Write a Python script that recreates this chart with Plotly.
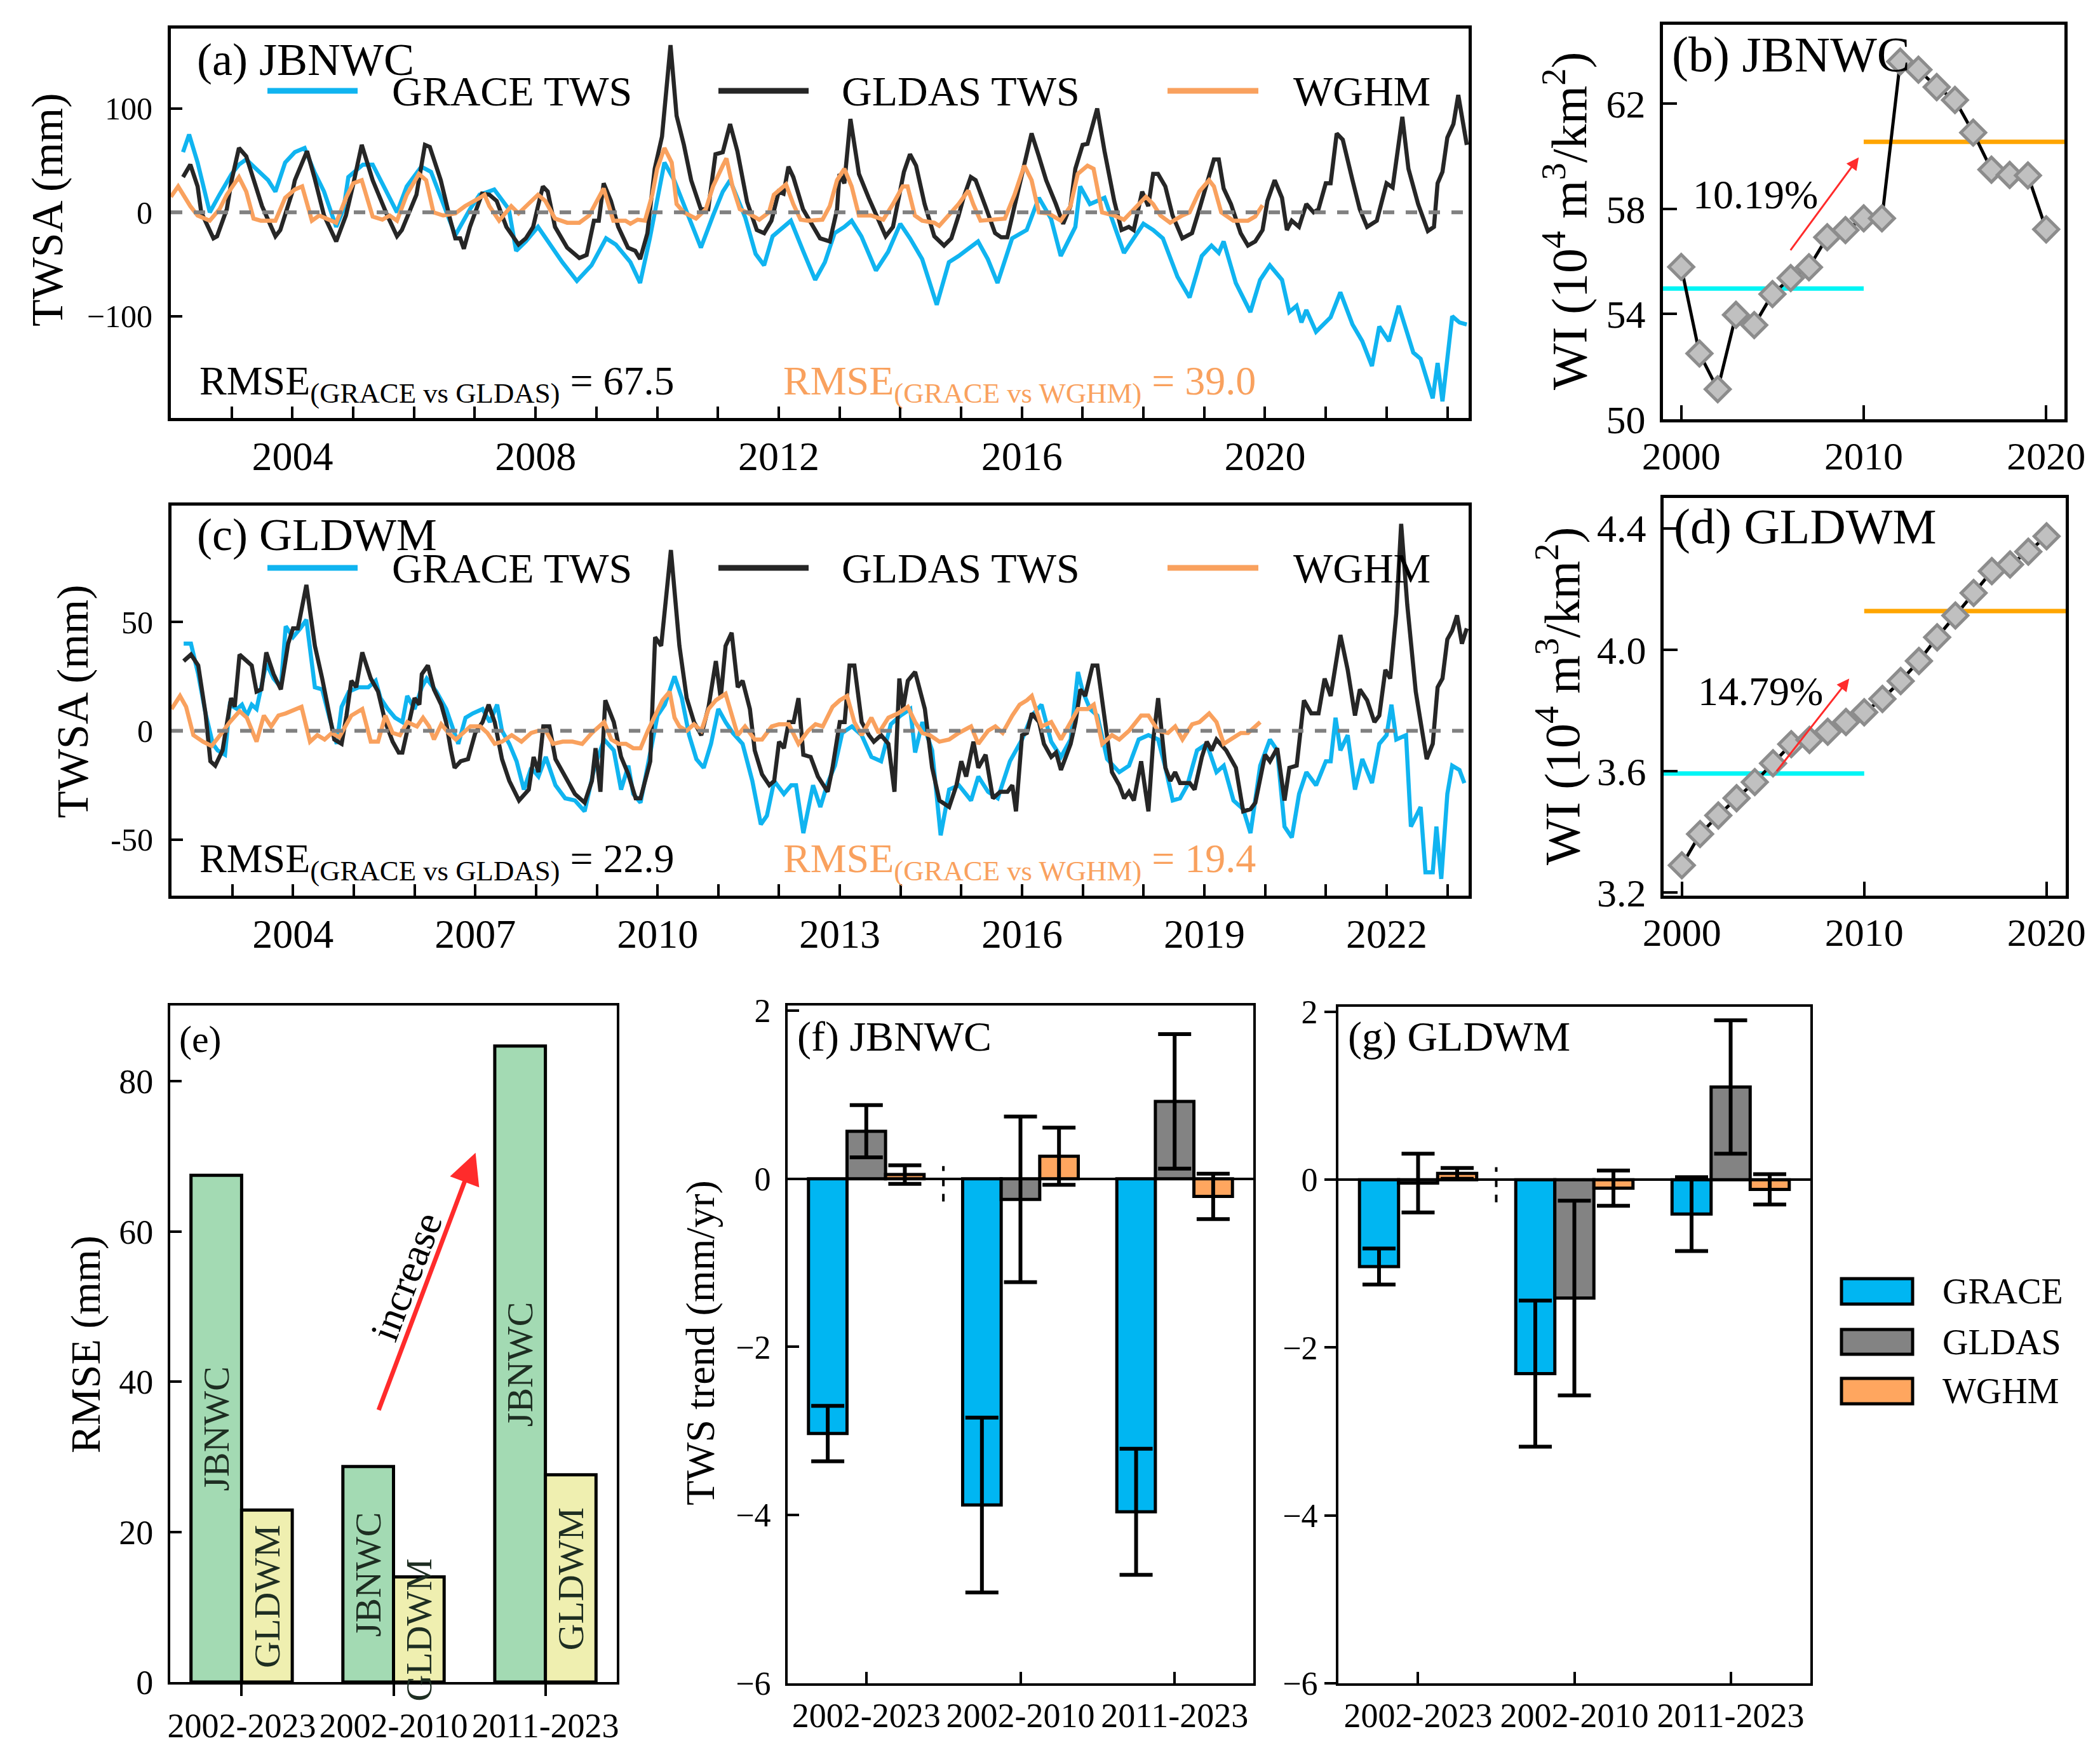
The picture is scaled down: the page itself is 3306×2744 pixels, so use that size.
import plotly.graph_objects as go

# ---------------- data ----------------
# (a) JBNWC monthly TWSA (mm) as (decimal year, value)
JB_GRACE = [(2002.2, 58), (2002.3, 75), (2002.44, 48), (2002.64, 0), (2002.8, 17), (2003.0, 37), (2003.12, 46),
            (2003.24, 51), (2003.4, 42), (2003.6, 31), (2003.72, 20), (2003.88, 48), (2004.04, 58), (2004.2, 62),
            (2004.36, 39), (2004.52, 20), (2004.72, -14), (2004.84, 3), (2004.92, 34), (2005.16, 46), (2005.32, 46),
            (2005.48, 28), (2005.72, 0), (2005.88, 25), (2006.12, 44), (2006.28, 39), (2006.52, 3), (2006.68, -22),
            (2006.92, 3), (2007.08, 17), (2007.32, 22), (2007.56, 3), (2007.68, -37), (2007.84, -28), (2008.04, -14),
            (2008.2, -28), (2008.44, -48), (2008.68, -66), (2008.92, -51), (2009.16, -25), (2009.32, -31),
            (2009.56, -48), (2009.72, -68), (2009.88, -25), (2010.12, 48), (2010.28, 31), (2010.44, 8),
            (2010.72, -34), (2010.92, -3), (2011.08, 20), (2011.2, 31), (2011.3, 17), (2011.45, -5), (2011.62, -40),
            (2011.76, -51), (2011.9, -23), (2012.08, -14), (2012.2, -8), (2012.4, -37), (2012.6, -65), (2012.76, -48),
            (2012.92, -20), (2013.08, -14), (2013.2, -8), (2013.36, -23), (2013.6, -56), (2013.8, -38), (2014.0, -11),
            (2014.16, -25), (2014.36, -45), (2014.6, -89), (2014.8, -48), (2014.96, -42), (2015.28, -28),
            (2015.44, -45), (2015.6, -68), (2015.84, -25), (2016.08, -17), (2016.28, 14), (2016.48, -6),
            (2016.64, -42), (2016.88, -14), (2016.96, 25), (2017.12, 8), (2017.36, 14), (2017.56, -20), (2017.68, -39),
            (2018.0, -11), (2018.16, -17), (2018.32, -25), (2018.56, -62), (2018.76, -82), (2018.96, -42),
            (2019.12, -32), (2019.24, -39), (2019.32, -28), (2019.52, -68), (2019.76, -96), (2019.92, -65),
            (2020.08, -51), (2020.28, -65), (2020.4, -96), (2020.52, -90), (2020.6, -106), (2020.68, -94),
            (2020.84, -115), (2021.08, -101), (2021.24, -77), (2021.44, -108), (2021.6, -124), (2021.76, -148),
            (2021.88, -110), (2022.04, -124), (2022.2, -90), (2022.44, -135), (2022.56, -141), (2022.76, -179),
            (2022.84, -145), (2022.92, -182), (2023.08, -100), (2023.2, -106), (2023.32, -108)]
JB_GLDAS = [(2002.2, 34), (2002.32, 46), (2002.44, 25), (2002.5, 0), (2002.7, -25), (2002.76, -23), (2002.92, 3),
            (2003.0, 31), (2003.12, 62), (2003.24, 54), (2003.5, 6), (2003.72, -23), (2003.8, -17), (2004.0, 20),
            (2004.04, 31), (2004.24, 59), (2004.36, 34), (2004.52, -3), (2004.72, -28), (2004.88, -3), (2005.0, 27),
            (2005.14, 65), (2005.32, 31), (2005.56, -3), (2005.72, -23), (2005.8, -17), (2006.04, 17), (2006.18, 65),
            (2006.26, 63), (2006.44, 31), (2006.6, -8), (2006.68, -25), (2006.76, -25), (2006.82, -35),
            (2006.92, -14), (2007.12, 18), (2007.24, 17), (2007.36, 11), (2007.52, -14), (2007.72, -31),
            (2007.84, -25), (2007.96, -14), (2008.04, 6), (2008.12, 25), (2008.2, 20), (2008.32, -14), (2008.52, -34),
            (2008.72, -44), (2008.84, -41), (2008.96, -8), (2009.04, -8), (2009.12, 28), (2009.24, 11),
            (2009.36, -14), (2009.52, -34), (2009.64, -37), (2009.72, -45), (2009.84, -20), (2009.96, 42),
            (2010.08, 73), (2010.22, 161), (2010.32, 93), (2010.44, 65), (2010.56, 31), (2010.72, 3), (2010.84, 3),
            (2010.96, 56), (2011.08, 58), (2011.2, 85), (2011.32, 59), (2011.48, 10), (2011.64, -17), (2011.76, -20),
            (2011.88, -8), (2012.0, 20), (2012.08, 18), (2012.16, 44), (2012.24, 34), (2012.4, 3), (2012.6, -17),
            (2012.68, -25), (2012.84, -28), (2012.96, 3), (2013.0, 37), (2013.08, 28), (2013.18, 90), (2013.32, 37),
            (2013.48, 14), (2013.64, -8), (2013.76, -23), (2013.88, -14), (2014.0, 20), (2014.06, 39), (2014.16, 56),
            (2014.26, 45), (2014.4, 8), (2014.56, -23), (2014.72, -32), (2014.84, -25), (2014.96, -3), (2015.04, 14),
            (2015.16, 34), (2015.24, 31), (2015.4, 6), (2015.56, -20), (2015.66, -24), (2015.76, -24), (2015.88, 6),
            (2016.0, 37), (2016.16, 76), (2016.28, 54), (2016.4, 31), (2016.56, 8), (2016.68, -11), (2016.8, 6),
            (2016.88, 42), (2017.0, 65), (2017.08, 66), (2017.24, 100), (2017.36, 59), (2017.52, 11), (2017.64, -17),
            (2017.76, -14), (2017.84, -17), (2017.98, 20), (2018.08, 6), (2018.16, 37), (2018.24, 37), (2018.36, 25),
            (2018.48, -3), (2018.64, -25), (2018.8, -20), (2018.92, 3), (2019.08, 34), (2019.16, 51), (2019.24, 51),
            (2019.32, 23), (2019.44, 8), (2019.6, -20), (2019.72, -32), (2019.84, -28), (2019.96, -17), (2020.04, 11),
            (2020.16, 31), (2020.28, 14), (2020.36, -17), (2020.44, -8), (2020.56, -14), (2020.68, 8), (2020.8, 0),
            (2020.88, 3), (2021.0, 28), (2021.08, 28), (2021.18, 76), (2021.28, 70), (2021.44, 31), (2021.56, 3),
            (2021.68, -14), (2021.84, -8), (2022.0, 28), (2022.1, 24), (2022.26, 92), (2022.36, 42), (2022.52, 8),
            (2022.68, -18), (2022.78, -14), (2022.84, 28), (2022.92, 39), (2023.0, 72), (2023.1, 85), (2023.18, 113),
            (2023.32, 65)]
JB_WGHM = [(2002.0, 15), (2002.12, 25), (2002.32, 6), (2002.44, -3), (2002.64, -8), (2002.8, 3), (2002.92, 17),
           (2003.12, 34), (2003.24, 20), (2003.36, -6), (2003.48, -8), (2003.72, -8), (2003.88, 14), (2004.04, 22),
           (2004.16, 25), (2004.32, -8), (2004.44, -3), (2004.6, -7), (2004.72, -10), (2004.88, 14), (2005.0, 28),
           (2005.14, 31), (2005.32, -4), (2005.48, -7), (2005.6, -3), (2005.72, -8), (2005.88, 17), (2006.08, 37),
           (2006.2, 31), (2006.32, 0), (2006.48, -3), (2006.68, -1), (2006.84, 6), (2007.08, 14), (2007.16, 17),
           (2007.24, 6), (2007.4, -8), (2007.6, 6), (2007.72, -1), (2007.88, 8), (2008.04, 17), (2008.16, 11),
           (2008.32, -6), (2008.52, -10), (2008.72, -10), (2008.88, -3), (2009.04, 14), (2009.12, 23), (2009.28, -8),
           (2009.48, -8), (2009.56, -11), (2009.68, -7), (2009.8, -8), (2009.92, 17), (2010.0, 42), (2010.12, 62),
           (2010.24, 48), (2010.32, 8), (2010.44, 0), (2010.64, -6), (2010.8, 3), (2010.92, 25), (2011.08, 45),
           (2011.14, 52), (2011.24, 25), (2011.36, 3), (2011.48, 0), (2011.68, -7), (2011.84, 0), (2011.92, 17),
           (2012.12, 27), (2012.24, 8), (2012.36, -7), (2012.48, -8), (2012.72, -7), (2012.84, 6), (2012.96, 31),
           (2013.08, 42), (2013.2, 25), (2013.32, -3), (2013.52, -3), (2013.72, -7), (2013.88, 8), (2014.04, 25),
           (2014.12, 25), (2014.24, -3), (2014.36, -8), (2014.56, -10), (2014.64, -13), (2014.8, -3), (2014.96, 8),
           (2015.12, 21), (2015.2, 8), (2015.32, -8), (2015.52, -7), (2015.72, -6), (2015.88, 17), (2016.04, 45),
           (2016.16, 31), (2016.28, 0), (2016.44, -1), (2016.64, -8), (2016.8, 6), (2016.92, 37), (2017.08, 45),
           (2017.18, 42), (2017.32, 0), (2017.52, -3), (2017.68, -7), (2017.84, 3), (2018.04, 15), (2018.16, 8),
           (2018.28, -3), (2018.44, -10), (2018.64, -3), (2018.76, 0), (2018.92, 20), (2019.08, 31), (2019.16, 25),
           (2019.28, 0), (2019.48, -8), (2019.72, -8), (2019.84, -4), (2019.96, 7)]

# (c) GLDWM monthly TWSA (mm)
GL_GRACE = [(2002.2, 40), (2002.32, 40), (2002.44, 26), (2002.56, 8), (2002.68, -6), (2002.76, -9), (2002.88, -11),
            (2002.96, 12), (2003.08, 10), (2003.16, 12), (2003.24, 7), (2003.32, 12), (2003.4, 10), (2003.56, 31),
            (2003.68, 24), (2003.8, 20), (2003.88, 48), (2004.0, 43), (2004.12, 47), (2004.22, 51), (2004.36, 20),
            (2004.48, 19), (2004.6, 6), (2004.72, -6), (2004.8, 11), (2004.92, 18), (2005.08, 20), (2005.24, 20),
            (2005.36, 23), (2005.44, 15), (2005.56, 10), (2005.68, 6), (2005.8, 4), (2005.88, 16), (2006.0, 10),
            (2006.12, 20), (2006.2, 24), (2006.36, 18), (2006.52, 10), (2006.64, 0), (2006.72, -6), (2006.84, 6),
            (2006.96, 8), (2007.12, 10), (2007.24, 4), (2007.36, 12), (2007.44, 0), (2007.56, -6), (2007.68, -14),
            (2007.8, -27), (2007.92, -17), (2008.04, -21), (2008.16, -12), (2008.32, -25), (2008.48, -31),
            (2008.64, -32), (2008.8, -37), (2008.96, -17), (2009.12, -4), (2009.28, -9), (2009.4, -27), (2009.52, -16),
            (2009.6, -29), (2009.72, -33), (2009.88, -9), (2010.0, 7), (2010.12, 12), (2010.28, 25), (2010.4, 15),
            (2010.52, -2), (2010.64, -13), (2010.76, -17), (2010.88, -6), (2011.0, 10), (2011.12, 4), (2011.24, -1),
            (2011.4, -6), (2011.56, -23), (2011.7, -43), (2011.8, -39), (2011.92, -23), (2012.08, -29), (2012.2, -25),
            (2012.28, -25), (2012.4, -47), (2012.56, -25), (2012.68, -35), (2012.8, -24), (2012.92, -16),
            (2013.04, -1), (2013.2, 2), (2013.36, -2), (2013.52, -12), (2013.68, -14), (2013.84, 3), (2014.0, 7),
            (2014.16, 10), (2014.24, -10), (2014.36, 4), (2014.52, -9), (2014.66, -48), (2014.8, -27), (2014.96, -25),
            (2015.16, -32), (2015.28, -21), (2015.44, -28), (2015.6, -31), (2015.8, -14), (2016.0, -4), (2016.16, 7),
            (2016.32, 12), (2016.48, -5), (2016.64, -12), (2016.8, -4), (2016.92, 27), (2017.0, 18), (2017.12, 10),
            (2017.24, 7), (2017.4, -13), (2017.6, -19), (2017.76, -16), (2017.92, -4), (2018.08, -2), (2018.24, -4),
            (2018.36, -17), (2018.48, -32), (2018.6, -31), (2018.72, -25), (2018.88, -9), (2019.04, -6),
            (2019.2, -19), (2019.32, -16), (2019.48, -32), (2019.64, -36), (2019.76, -47), (2019.92, -16),
            (2020.08, -4), (2020.2, -9), (2020.32, -44), (2020.44, -49), (2020.56, -29), (2020.68, -19),
            (2020.84, -25), (2021.0, -14), (2021.08, -14), (2021.16, 6), (2021.24, -9), (2021.36, -2), (2021.48, -27),
            (2021.6, -13), (2021.76, -24), (2021.88, -6), (2022.0, -2), (2022.08, 12), (2022.16, -4), (2022.32, -2),
            (2022.4, -44), (2022.56, -35), (2022.64, -65), (2022.76, -65), (2022.82, -44), (2022.9, -68),
            (2023.0, -29), (2023.08, -16), (2023.2, -18), (2023.28, -24)]
GL_GLDAS = [(2002.2, 32), (2002.32, 35), (2002.44, 30), (2002.56, 8), (2002.64, -14), (2002.72, -16), (2002.84, -9),
            (2002.98, 15), (2003.04, 11), (2003.12, 35), (2003.24, 32), (2003.32, 30), (2003.4, 18), (2003.48, 19),
            (2003.56, 36), (2003.68, 26), (2003.8, 19), (2003.92, 40), (2004.0, 47), (2004.08, 47), (2004.22, 67),
            (2004.36, 39), (2004.48, 24), (2004.6, 7), (2004.68, -4), (2004.8, -6), (2004.88, 7), (2004.96, 23),
            (2005.04, 20), (2005.14, 36), (2005.28, 24), (2005.4, 18), (2005.52, 4), (2005.64, -5), (2005.74, -10),
            (2005.8, -10), (2005.92, 6), (2006.0, 15), (2006.08, 12), (2006.12, 26), (2006.22, 30), (2006.32, 19),
            (2006.44, 12), (2006.52, 4), (2006.6, -9), (2006.66, -17), (2006.76, -14), (2006.88, -13), (2007.0, -1),
            (2007.12, 4), (2007.22, 12), (2007.32, 4), (2007.44, -13), (2007.56, -23), (2007.72, -32), (2007.88, -27),
            (2007.96, -12), (2008.04, -19), (2008.12, 2), (2008.22, 2), (2008.32, -13), (2008.48, -21),
            (2008.64, -29), (2008.8, -33), (2008.92, -23), (2008.98, -8), (2009.06, -28), (2009.14, 14), (2009.28, 4),
            (2009.4, -12), (2009.52, -20), (2009.64, -31), (2009.72, -31), (2009.88, -14), (2009.96, 43),
            (2010.06, 39), (2010.22, 83), (2010.36, 39), (2010.48, 15), (2010.6, 4), (2010.72, -2), (2010.84, 11),
            (2010.96, 32), (2011.04, 15), (2011.12, 39), (2011.22, 45), (2011.32, 20), (2011.4, 23), (2011.52, 10),
            (2011.6, -9), (2011.72, -20), (2011.84, -25), (2011.92, -23), (2012.0, -5), (2012.08, -8), (2012.16, 4),
            (2012.24, 4), (2012.32, 15), (2012.4, -11), (2012.52, -12), (2012.64, -21), (2012.8, -28), (2012.88, -17),
            (2013.0, 4), (2013.08, 4), (2013.16, 30), (2013.24, 30), (2013.36, 4), (2013.48, -2), (2013.56, -5),
            (2013.68, -2), (2013.8, -6), (2013.9, -28), (2013.98, 24), (2014.04, 10), (2014.12, 23), (2014.24, 27),
            (2014.4, 10), (2014.52, -17), (2014.64, -32), (2014.8, -35), (2014.92, -25), (2015.0, -14), (2015.08, -21),
            (2015.2, -5), (2015.28, -17), (2015.4, -11), (2015.52, -31), (2015.64, -28), (2015.76, -28),
            (2015.84, -25), (2015.9, -37), (2016.0, -2), (2016.08, -1), (2016.16, 8), (2016.28, 4), (2016.36, -6),
            (2016.48, -12), (2016.56, -10), (2016.64, -18), (2016.8, -6), (2016.88, 4), (2016.96, 19), (2017.04, 16),
            (2017.16, 30), (2017.24, 30), (2017.36, 7), (2017.48, -19), (2017.6, -25), (2017.68, -31), (2017.76, -28),
            (2017.84, -32), (2017.96, -14), (2018.08, -37), (2018.16, -4), (2018.24, 15), (2018.36, -17),
            (2018.44, -23), (2018.52, -19), (2018.6, -24), (2018.76, -24), (2018.84, -27), (2018.96, -12),
            (2019.04, -5), (2019.12, -9), (2019.2, -4), (2019.36, -9), (2019.52, -17), (2019.64, -37), (2019.76, -36),
            (2019.84, -33), (2020.0, -11), (2020.08, -14), (2020.2, -8), (2020.32, -32), (2020.4, -17), (2020.52, -16),
            (2020.64, 14), (2020.76, 8), (2020.88, 8), (2020.98, 24), (2021.08, 16), (2021.24, 44), (2021.36, 28),
            (2021.48, 7), (2021.56, 19), (2021.68, 14), (2021.8, 4), (2021.88, 7), (2021.98, 28), (2022.06, 24),
            (2022.16, 54), (2022.24, 95), (2022.34, 58), (2022.48, 18), (2022.66, -13), (2022.76, -6), (2022.84, 20),
            (2022.92, 24), (2023.0, 42), (2023.08, 46), (2023.16, 53), (2023.24, 40), (2023.32, 47)]
GL_WGHM = [(2002.0, 10), (2002.14, 16), (2002.24, 11), (2002.36, -2), (2002.52, -5), (2002.66, -7), (2002.8, -2),
           (2002.96, 4), (2003.12, 9), (2003.24, 6), (2003.4, -5), (2003.52, 7), (2003.64, 2), (2003.76, 7),
           (2003.88, 8), (2004.04, 10), (2004.14, 11), (2004.28, -5), (2004.4, -2), (2004.52, -4), (2004.64, -1),
           (2004.76, -3), (2004.88, 3), (2004.96, 7), (2005.14, 10), (2005.28, -5), (2005.4, -5), (2005.52, 7),
           (2005.64, -1), (2005.76, -2), (2005.88, 4), (2006.04, 2), (2006.14, 6), (2006.24, 2), (2006.32, -4),
           (2006.44, 3), (2006.56, -1), (2006.68, -4), (2006.8, -1), (2006.92, 2), (2007.08, 2), (2007.2, -1),
           (2007.32, -6), (2007.44, -5), (2007.6, -2), (2007.76, -5), (2007.92, -1), (2008.04, 0), (2008.16, 0),
           (2008.28, -6), (2008.44, -5), (2008.6, -5), (2008.76, -6), (2008.92, -1), (2009.12, 4), (2009.24, -4),
           (2009.36, -6), (2009.48, -6), (2009.6, -8), (2009.72, -8), (2009.84, 0), (2009.96, 7), (2010.08, 14),
           (2010.2, 18), (2010.28, 6), (2010.36, 2), (2010.48, 0), (2010.6, 3), (2010.72, 0), (2010.84, 10),
           (2010.96, 14), (2011.12, 17), (2011.2, 10), (2011.32, -2), (2011.44, 2), (2011.6, -4), (2011.72, -4),
           (2011.88, 2), (2012.0, 3), (2012.16, 3), (2012.32, -6), (2012.48, 0), (2012.6, 3), (2012.72, 2),
           (2012.88, 11), (2013.0, 14), (2013.12, 16), (2013.24, 4), (2013.36, -2), (2013.52, 6), (2013.64, -1),
           (2013.8, 6), (2013.96, 8), (2014.12, 11), (2014.24, 4), (2014.36, -1), (2014.48, -2), (2014.64, -5),
           (2014.8, -4), (2014.96, -1), (2015.16, 2), (2015.28, -6), (2015.44, 0), (2015.56, 2), (2015.68, -1),
           (2015.84, 7), (2015.96, 12), (2016.08, 14), (2016.16, 16), (2016.32, 2), (2016.48, 4), (2016.64, -4),
           (2016.8, 4), (2016.92, 10), (2017.08, 10), (2017.18, 12), (2017.32, -6), (2017.48, -2), (2017.6, -4),
           (2017.76, 0), (2017.96, 7), (2018.08, 7), (2018.24, 0), (2018.4, -1), (2018.52, 2), (2018.64, -4),
           (2018.8, 3), (2018.92, 4), (2019.08, 8), (2019.2, 4), (2019.32, -6), (2019.44, -4), (2019.6, -1),
           (2019.72, -1), (2019.84, 2), (2019.92, 4)]

RMSE_TEXT_JB = ["67.5", "39.0"]
RMSE_TEXT_GL = ["22.9", "19.4"]

# (b), (d) annual WI (10^4 m3/km2)
WI_YEARS = list(range(2000, 2021))
WI_JBNWC = [55.79, 52.5, 51.14, 53.97, 53.58, 54.76, 55.37, 55.78, 56.92, 57.19, 57.64,
            57.64, 63.6, 63.29, 62.63, 62.14, 60.9, 59.49, 59.29, 59.27, 57.22]
WI_GLDWM = [3.29, 3.393, 3.454, 3.511, 3.564, 3.626, 3.689, 3.703, 3.73, 3.762, 3.794,
            3.838, 3.897, 3.963, 4.041, 4.113, 4.187, 4.259, 4.281, 4.323, 4.374]
PERIOD_SPLIT = 2010
WI_PCT = ["10.19%", "14.79%"]

# (e) RMSE (mm)
PERIODS = ["2002-2023", "2002-2010", "2011-2023"]
RMSE_JBNWC = [67.5, 28.7, 84.7]
RMSE_GLDWM = [22.9, 14.0, 27.6]

# (f), (g) TWS trend (mm/yr) and uncertainty
TREND_F = {"GRACE": [-3.03, -3.88, -3.96], "GLDAS": [0.565, -0.245, 0.92], "WGHM": [0.05, 0.267, -0.21]}
ERR_F = {"GRACE": [0.33, 1.04, 0.75], "GLDAS": [0.31, 0.985, 0.80], "WGHM": [0.11, 0.34, 0.27]}
TREND_G = {"GRACE": [-1.035, -2.31, -0.41], "GLDAS": [-0.04, -1.41, 1.105], "WGHM": [0.075, -0.10, -0.115]}
ERR_G = {"GRACE": [0.215, 0.87, 0.44], "GLDAS": [0.35, 1.16, 0.795], "WGHM": [0.065, 0.21, 0.18]}

# ---------------- style ----------------
W, H = 3306, 2744
SERIF = "Liberation Serif, Times New Roman, serif"
C_GRACE_LINE = "#10B4F0"
C_GLDAS_LINE = "#262626"
C_WGHM_LINE = "#F9A15E"
C_GRACE_BAR = "#00B6F2"
C_GLDAS_BAR = "#838383"
C_WGHM_BAR = "#FFA65F"
C_JB_BAR = "#A3DAB3"
C_GL_BAR = "#EFEFB0"
C_RED = "#FF2B2B"
BAR_COLORS = {"GRACE": C_GRACE_BAR, "GLDAS": C_GLDAS_BAR, "WGHM": C_WGHM_BAR}


def px_x(x):
    return x / W


def px_y(y):
    return 1 - y / H


def dom(a, b, total, flip=False):
    if flip:
        return [1 - b / total, 1 - a / total]
    return [a / total, b / total]


def ax_style(**kw):
    base = dict(showline=True, linecolor="black", linewidth=5, mirror=True, ticks="inside",
                ticklen=18, tickwidth=4, tickcolor="black", showgrid=False, zeroline=False,
                automargin=False, tickangle=0,
                tickfont=dict(family=SERIF, size=50, color="black"))
    base.update(kw)
    return base


fig = go.Figure()


def add_line(pairs, color, xa, ya, width=6.5):
    t, v = zip(*pairs)
    fig.add_trace(go.Scatter(x=list(t), y=list(v), mode="lines", line=dict(color=color, width=width),
                             xaxis=xa, yaxis=ya, showlegend=False))


# (a) and (c) time series
add_line(JB_GRACE, C_GRACE_LINE, "x", "y")
add_line(JB_GLDAS, C_GLDAS_LINE, "x", "y")
add_line(JB_WGHM, C_WGHM_LINE, "x", "y")
add_line(GL_GRACE, C_GRACE_LINE, "x3", "y3")
add_line(GL_GLDAS, C_GLDAS_LINE, "x3", "y3")
add_line(GL_WGHM, C_WGHM_LINE, "x3", "y3")

# (b) and (d) WI series with period means
for vals, xa, ya in [(WI_JBNWC, "x2", "y2"), (WI_GLDWM, "x4", "y4")]:
    before = [v for yr, v in zip(WI_YEARS, vals) if yr <= PERIOD_SPLIT]
    after = [v for yr, v in zip(WI_YEARS, vals) if yr > PERIOD_SPLIT]
    m1 = sum(before) / len(before)
    m2 = sum(after) / len(after)
    fig.add_trace(go.Scatter(x=[WI_YEARS[0] - 1, PERIOD_SPLIT], y=[m1, m1], mode="lines",
                             line=dict(color="#00F5F5", width=7), xaxis=xa, yaxis=ya, showlegend=False))
    fig.add_trace(go.Scatter(x=[PERIOD_SPLIT, WI_YEARS[-1] + 1.1], y=[m2, m2], mode="lines",
                             line=dict(color="#FFA500", width=7), xaxis=xa, yaxis=ya, showlegend=False))
    fig.add_trace(go.Scatter(x=WI_YEARS, y=vals, mode="lines+markers", line=dict(color="black", width=5),
                             marker=dict(symbol="diamond", size=30, color="#C0C0C0",
                                         line=dict(color="#8C8C8C", width=5)),
                             xaxis=xa, yaxis=ya, showlegend=False))

# (e) RMSE bars
idx = list(range(len(PERIODS)))
fig.add_trace(go.Bar(x=[i - 1 / 6 for i in idx], y=RMSE_JBNWC, width=1 / 3, marker=dict(color=C_JB_BAR,
                     line=dict(color="black", width=5)), xaxis="x5", yaxis="y5", showlegend=False))
fig.add_trace(go.Bar(x=[i + 1 / 6 for i in idx], y=RMSE_GLDWM, width=1 / 3, marker=dict(color=C_GL_BAR,
                     line=dict(color="black", width=5)), xaxis="x5", yaxis="y5", showlegend=False))

# (f) and (g) trend bars
offsets = {"GRACE": -0.25, "GLDAS": 0.0, "WGHM": 0.25}
for trend, err, xa, ya in [(TREND_F, ERR_F, "x6", "y6"), (TREND_G, ERR_G, "x7", "y7")]:
    for name in ["GRACE", "GLDAS", "WGHM"]:
        fig.add_trace(go.Bar(x=[i + offsets[name] for i in idx], y=trend[name], width=0.25,
                             marker=dict(color=BAR_COLORS[name], line=dict(color="black", width=5)),
                             error_y=dict(type="data", array=err[name], color="black", thickness=6, width=26),
                             xaxis=xa, yaxis=ya, showlegend=False))

# ---------------- annotations ----------------
ann = []


def text(x, y, s, size, color="black", xanchor="left", yanchor="middle", angle=0, xref="paper", yref="paper"):
    if xref == "paper":
        x, y = px_x(x), px_y(y)
    ann.append(dict(x=x, y=y, xref=xref, yref=yref, text=s, showarrow=False, xanchor=xanchor, yanchor=yanchor,
                    textangle=angle, font=dict(family=SERIF, size=size, color=color)))


text(300, 86, "(a) JBNWC", 72)
text(300, 834, "(c) GLDWM", 72)
text(2622, 78, "(b) JBNWC", 78)
text(2625, 820, "(d) GLDWM", 78)
text(272, 1628, "(e)", 60)
text(1245, 1624, "(f) JBNWC", 66)
text(2112, 1624, "(g) GLDWM", 66)

# axis titles
text(67, 323, "TWSA (mm)", 70, xanchor="center", angle=-90)
text(107, 1096, "TWSA (mm)", 70, xanchor="center", angle=-90)
text(2457, 340, "WI (10<sup>4</sup> m<sup>3</sup>/km<sup>2</sup>)", 78, xanchor="center", angle=-90)
text(2445, 1088, "WI (10<sup>4</sup> m<sup>3</sup>/km<sup>2</sup>)", 78, xanchor="center", angle=-90)
text(127, 2108, "RMSE (mm)", 66, xanchor="center", angle=-90)
text(1094, 2106, "TWS trend (mm/yr)", 64, xanchor="center", angle=-90)

# legends for (a) and (c)
shapes = []
leg_items = [("GRACE TWS", C_GRACE_LINE, 413, 555, 607), ("GLDAS TWS", C_GLDAS_LINE, 1123, 1265, 1315),
             ("WGHM", C_WGHM_LINE, 1830, 1973, 2026)]
for ly in [135, 886]:
    for label, col, x0, x1, tx in leg_items:
        shapes.append(dict(type="line", xref="paper", yref="paper", x0=px_x(x0), x1=px_x(x1),
                           y0=px_y(ly), y1=px_y(ly), line=dict(color=col, width=9)))
        text(tx, ly, label, 66)

# RMSE text
for ly, vals in [(596, RMSE_TEXT_JB), (1348, RMSE_TEXT_GL)]:
    text(304, ly, "RMSE<sub>(GRACE vs GLDAS)</sub> = " + vals[0], 64)
    text(1223, ly, "RMSE<sub>(GRACE vs WGHM)</sub> = " + vals[1], 64, color=C_WGHM_LINE)

# zero dashed lines in (a), (c)
for xa, ya in [("x", "y"), ("x3", "y3")]:
    shapes.append(dict(type="line", xref=xa + " domain", yref=ya, x0=0, x1=1, y0=0, y1=0, layer="above",
                       line=dict(color="#808080", width=6, dash="dash")))

# percentage labels and arrows (b), (d)
text(2000.58, 58.55, WI_PCT[0], 64, xref="x2", yref="y2")
text(2000.8, 3.863, WI_PCT[1], 64, xref="x4", yref="y4")
ann.append(dict(x=2009.73, y=59.96, ax=2005.95, ay=56.39, xref="x2", yref="y2", axref="x2", ayref="y2",
                text="", showarrow=True, arrowhead=2, arrowsize=1.3, arrowwidth=3, arrowcolor=C_RED))
ann.append(dict(x=2009.18, y=3.905, ax=2005.16, ay=3.597, xref="x4", yref="y4", axref="x4", ayref="y4",
                text="", showarrow=True, arrowhead=2, arrowsize=1.3, arrowwidth=3, arrowcolor=C_RED))

# (e) bar labels and arrow
for i in idx:
    text(i - 1 / 6, RMSE_JBNWC[i] / 2, "JBNWC", 58, color="#1E2E22", xanchor="center", angle=-90,
         xref="x5", yref="y5")
    text(i + 1 / 6, RMSE_GLDWM[i] / 2, "GLDWM", 58, color="#1E2E22", xanchor="center", angle=-90,
         xref="x5", yref="y5")
ann.append(dict(x=1.54, y=70.5, ax=0.9, ay=36.1, xref="x5", yref="y5", axref="x5", ayref="y5",
                text="", showarrow=True, arrowhead=2, arrowsize=1.4, arrowwidth=7, arrowcolor=C_RED))
text(1.085, 54, "increase", 64, xanchor="center", angle=-69, xref="x5", yref="y5")

# separators in (f), (g)
for xa, ya in [("x6", "y6"), ("x7", "y7")]:
    shapes.append(dict(type="line", xref=xa, yref=ya, x0=0.5, x1=0.5, y0=-0.27, y1=0.15,
                       line=dict(color="black", width=4, dash="dash")))

# legend for (f), (g)
for (label, col), (y0, y1) in zip([("GRACE", C_GRACE_BAR), ("GLDAS", C_GLDAS_BAR), ("WGHM", C_WGHM_BAR)],
                                  [(2005, 2045), (2085, 2124), (2162, 2202)]):
    shapes.append(dict(type="rect", xref="paper", yref="paper", x0=px_x(2891), x1=px_x(3003),
                       y0=px_y(y1), y1=px_y(y0), fillcolor=col, line=dict(color="black", width=5)))
    text(3048, (y0 + y1) / 2, label, 56)

# ---------------- layout ----------------
A_XTICKS = [2004, 2008, 2012, 2016, 2020]
C_XTICKS = [2004, 2007, 2010, 2013, 2016, 2019, 2022]
YEAR_MINOR = list(range(2003, 2024))
minor = dict(tickvals=YEAR_MINOR, ticks="inside", ticklen=18, tickwidth=4, tickcolor="black")
big_tick = dict(family=SERIF, size=64, color="black")
mid_tick = dict(family=SERIF, size=62, color="black")
bar_tick = dict(family=SERIF, size=54, color="black")

fig.update_layout(
    width=W, height=H, margin=dict(l=0, r=0, t=0, b=0, autoexpand=False), paper_bgcolor="white",
    plot_bgcolor="white", showlegend=False, barmode="overlay", annotations=ann, shapes=shapes,
    xaxis=ax_style(domain=dom(261, 2304, W), anchor="y", range=[2002.0, 2023.35], tickvals=A_XTICKS,
                   tickfont=big_tick, minor=minor),
    yaxis=ax_style(domain=dom(37, 650, H, True), anchor="x", range=[-198, 177], tickvals=[-100, 0, 100],
                   ticklabelstandoff=14),
    xaxis2=ax_style(domain=dom(2610, 3242, W), anchor="y2", range=[1999, 2021], tickvals=[2000, 2010, 2020],
                    tickfont=mid_tick, ticklen=22),
    yaxis2=ax_style(domain=dom(31, 652, H, True), anchor="x2", range=[50, 65], tickvals=[50, 54, 58, 62],
                    tickfont=mid_tick, ticklen=22, ticklabelstandoff=10),
    xaxis3=ax_style(domain=dom(262, 2304, W), anchor="y3", range=[2002.0, 2023.35], tickvals=C_XTICKS,
                    tickfont=big_tick, minor=minor),
    yaxis3=ax_style(domain=dom(788, 1402, H, True), anchor="x3", range=[-75.7, 103.4], tickvals=[-50, 0, 50],
                    ticktext=["-50", "0", "50"], ticklabelstandoff=14),
    xaxis4=ax_style(domain=dom(2611, 3244, W), anchor="y4", range=[1999, 2021.05], tickvals=[2000, 2010, 2020],
                    tickfont=mid_tick, ticklen=22),
    yaxis4=ax_style(domain=dom(776, 1402, H, True), anchor="x4", range=[3.19, 4.5],
                    tickvals=[3.2, 3.6, 4.0, 4.4], ticktext=["3.2", "3.6", "4.0", "4.4"],
                    tickfont=mid_tick, ticklen=22, ticklabelstandoff=10),
    xaxis5=ax_style(domain=dom(260, 963, W), anchor="y5", range=[-0.47, 2.47], tickvals=idx, ticktext=PERIODS,
                    ticks="outside", linewidth=4, tickfont=bar_tick),
    yaxis5=ax_style(domain=dom(1575, 2640, H, True), anchor="x5", range=[0, 90.1], tickvals=[0, 20, 40, 60, 80],
                    linewidth=4, tickfont=dict(family=SERIF, size=54, color="black"), ticklabelstandoff=12),
    xaxis6=ax_style(domain=dom(1232, 1965, W), anchor="y6", range=[-0.51, 2.51], tickvals=idx, ticktext=PERIODS,
                    linewidth=4, tickfont=bar_tick),
    yaxis6=ax_style(domain=dom(1575, 2642, H, True), anchor="x6", range=[-6, 2.06], tickvals=[-6, -4, -2, 0, 2],
                    linewidth=4, zeroline=True, zerolinecolor="black", zerolinewidth=4,
                    tickfont=dict(family=SERIF, size=52, color="black"), ticklabelstandoff=12),
    xaxis7=ax_style(domain=dom(2099, 2842, W), anchor="y7", range=[-0.51, 2.51], tickvals=idx, ticktext=PERIODS,
                    linewidth=4, tickfont=bar_tick),
    yaxis7=ax_style(domain=dom(1577, 2642, H, True), anchor="x7", range=[-6, 2.06], tickvals=[-6, -4, -2, 0, 2],
                    ticks="outside", linewidth=4, zeroline=True, zerolinecolor="black", zerolinewidth=4,
                    tickfont=dict(family=SERIF, size=52, color="black")),
)

fig.write_html("out.html")
